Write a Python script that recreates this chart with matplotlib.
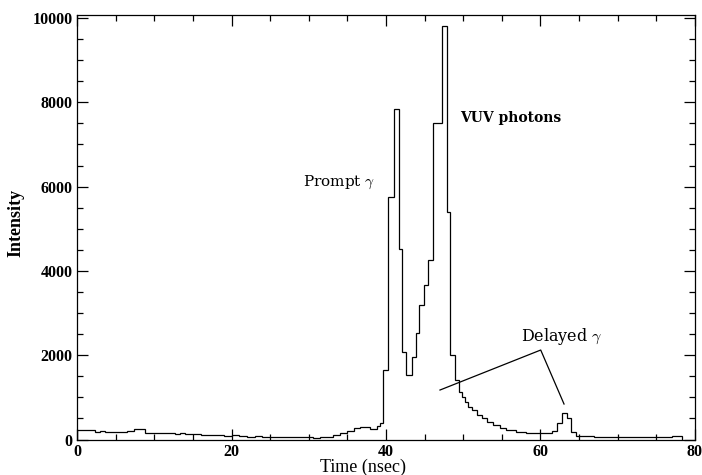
import numpy as np
import matplotlib
matplotlib.use("Agg")
import matplotlib.pyplot as plt
from matplotlib.ticker import MultipleLocator

# histogram bin edges (nsec) and intensity per bin
edges = [0.0, 1.0, 2.3, 3.0, 3.6, 4.5, 5.2, 6.5, 7.3, 8.3, 8.8, 10.0, 11.0, 11.5,
         12.7, 13.3, 14.0, 15.0, 16.1, 17.0, 18.0, 19.0, 20.0, 21.0, 22.0, 23.0,
         24.0, 25.0, 26.0, 27.0, 28.0, 29.0, 30.6, 31.5, 32.3, 33.2, 34.0, 34.9,
         35.8, 36.6, 37.9, 38.9, 39.2, 39.65, 40.3, 41.08, 41.73, 42.12, 42.6,
         43.33, 43.9, 44.3, 44.9, 45.5, 46.1, 47.2, 47.9, 48.3, 48.9, 49.4, 49.8,
         50.24, 50.67, 51.1, 51.76, 52.4, 53.05, 53.9, 54.8, 55.6, 56.9, 58.2,
         60.0, 61.5, 62.1, 62.8, 63.4, 64.0, 64.6, 65.5, 67.0, 69.0, 71.0, 72.5,
         74.0, 75.5, 77.0, 78.3]
counts = [230, 215, 190, 200, 175, 185, 180, 200, 240, 250, 165, 150, 165, 150,
          130, 145, 120, 125, 110, 100, 110, 95, 100, 80, 70, 85, 60, 70, 60, 65,
          55, 60, 30, 50, 70, 110, 160, 210, 280, 300, 240, 320, 385, 1650, 5760,
          7850, 4530, 2080, 1530, 1950, 2520, 3190, 3665, 4258, 7500, 9800, 5400,
          2000, 1400, 1130, 1016, 897, 778, 700, 581, 503, 423, 344, 265, 225, 185,
          160, 147, 200, 384, 640, 520, 185, 90, 75, 65, 60, 55, 65, 55, 70, 85]

# annotation line for the delayed gamma: foot -> apex -> peak
delayed_x = [47.0, 60.05, 63.07]
delayed_y = [1174, 2123, 842]

plt.rcParams['font.family'] = ['DejaVu Serif']
plt.rcParams['mathtext.fontset'] = 'cm'

fig = plt.figure(figsize=(7.02, 4.75), dpi=100)
ax = fig.add_axes([0.110, 0.0747, 0.8796, 0.8937])

ax.stairs(counts, edges, baseline=0, color='black', linewidth=0.9)
ax.plot(delayed_x, delayed_y, color='black', linewidth=0.9)

ax.text(33.95, 6109, r'Prompt $\gamma$', ha='center', va='center', fontsize=11)
ax.text(49.6, 7620, 'VUV photons', ha='left', va='center', fontsize=10,
        fontweight='bold')
ax.text(62.8, 2440, r'Delayed $\gamma$', ha='center', va='center', fontsize=11.5)

ax.set_xlim(0, 80)
ax.set_ylim(0, 10070)
ax.xaxis.set_major_locator(MultipleLocator(20))
ax.xaxis.set_minor_locator(MultipleLocator(5))
ax.yaxis.set_major_locator(MultipleLocator(2000))
ax.yaxis.set_minor_locator(MultipleLocator(500))
ax.tick_params(which='both', direction='in', top=True, right=True, width=0.9)
ax.tick_params(which='major', length=8)
ax.tick_params(which='minor', length=4.5)
ax.tick_params(axis='x', pad=3)
for lab in ax.get_xticklabels() + ax.get_yticklabels():
    lab.set_fontweight('bold')
    lab.set_family('Liberation Serif')
    lab.set_fontsize(11.5)
for s in ax.spines.values():
    s.set_linewidth(0.9)

ax.set_xlabel('Time (nsec)', fontsize=13, family='Liberation Serif')
ax.xaxis.set_label_coords(0.463, -0.045)
ax.set_ylabel('Intensity', fontsize=13, fontweight='bold', family='Liberation Serif')
ax.yaxis.set_label_coords(-0.086, 0.51)

fig.savefig('out.png', dpi=100)
